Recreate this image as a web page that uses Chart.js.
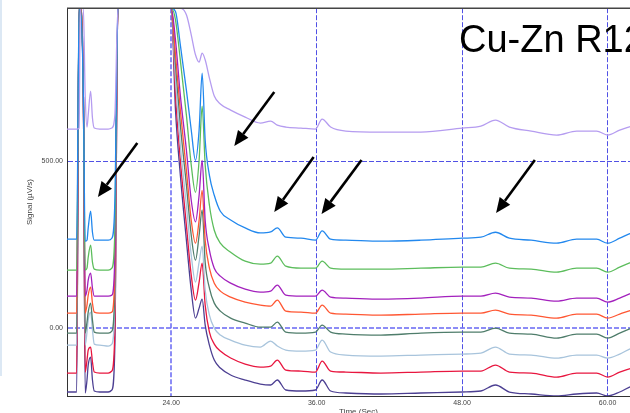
<!DOCTYPE html>
<html>
<head>
<meta charset="utf-8">
<script src="https://cdn.jsdelivr.net/npm/chart.js@4.4.1/dist/chart.umd.min.js"></script>
<style>
  html, body { margin: 0; padding: 0; background: #fff; overflow: hidden; width: 630px; height: 413px; }
  #wrap { position: absolute; left: 0; top: 0; width: 650px; height: 430px; }
  #strip { position: absolute; left: 0; top: 0; width: 2px; height: 376px; background: #dce8f4; z-index: 2; }
</style>
</head>
<body>
<div id="strip"></div>
<div id="wrap"><canvas id="chromChart" width="650" height="430"></canvas></div>
<script>
// retention time (sec)
const times = [15.4, 16.2, 16.4, 16.5, 16.75, 16.9, 17.05, 17.15, 17.35, 17.5,
  17.65, 18.1, 18.8, 19.1, 19.35, 19.6, 23.75, 24.0, 24.35, 24.75,
  25.25, 25.65, 26.0, 26.3, 26.55, 26.8, 27.15, 27.55, 28.05, 28.9,
  30.1, 31.35, 32.2, 32.75, 33.45, 34.7, 35.9, 36.45, 37.15, 38.4,
  41.3, 44.6, 48.0, 49.55, 50.75, 51.9, 53.7, 55.8, 57.45, 59.1,
  60.0, 61.0, 62.0, 63.5];

// signal (uV/s), one trace per run; 960 = detector off scale
const lavender = [597, 597, 600, 960, 960, 700, 603, 639, 711, 630,
  600, 597, 597, 600, 639, 960, 960, 960, 960, 960,
  940, 880, 820, 798, 825, 805, 750, 696, 672, 654,
  633, 615, 621, 609, 603, 600, 597, 627, 603, 591,
  588, 588, 600, 606, 624, 603, 591, 579, 591, 591,
  579, 594, 606, 618];

const blue = [266, 266, 960, 960, 700, 260, 263, 300, 350, 287,
  263, 263, 263, 269, 383, 960, 960, 960, 950, 850,
  714, 594, 503, 594, 765, 564, 458, 398, 350, 324,
  300, 285, 288, 300, 272, 269, 263, 291, 266, 263,
  260, 263, 269, 272, 287, 269, 263, 254, 266, 266,
  254, 269, 285, 297];

const green = [173, 173, 960, 960, 700, 173, 179, 212, 248, 197,
  176, 173, 173, 179, 293, 960, 960, 960, 925, 804,
  639, 489, 407, 503, 666, 489, 368, 293, 254, 227,
  200, 191, 194, 215, 185, 179, 179, 200, 179, 176,
  176, 179, 182, 182, 194, 179, 176, 167, 179, 179,
  167, 182, 197, 209];

const purple = [95, 95, 960, 960, 700, 95, 113, 143, 164, 119,
  95, 95, 95, 98, 218, 960, 960, 960, 865, 699,
  534, 383, 318, 398, 503, 323, 233, 179, 155, 134,
  116, 107, 110, 128, 98, 95, 95, 113, 92, 89,
  86, 89, 95, 95, 104, 92, 89, 80, 89, 89,
  77, 89, 104, 116];

const orange = [44, 44, 960, 960, 700, 44, 68, 98, 122, 74,
  47, 44, 44, 47, 173, 960, 960, 960, 820, 654,
  473, 323, 254, 323, 413, 263, 179, 134, 110, 92,
  77, 68, 65, 83, 50, 47, 44, 68, 44, 41,
  38, 41, 44, 44, 53, 41, 38, 29, 41, 41,
  29, 41, 53, 65];

const slateGreen = [-16, -16, 960, 960, 700, -16, 17, 47, 74, 23,
  -13, -16, -16, -10, 128, 960, 960, 960, 789, 609,
  429, 278, 203, 278, 354, 197, 119, 74, 50, 29,
  14, 2, 2, 17, -13, -16, -13, 8, -13, -19,
  -22, -16, -13, -13, -1, -16, -19, -31, -19, -19,
  -31, -16, -1, 11];

const lightBlue = [-52, -52, 960, 960, 700, -52, -13, 23, 47, -7,
  -49, -52, -55, -49, 83, 960, 960, 960, 744, 549,
  368, 218, 137, 197, 245, 113, 38, -1, -22, -37,
  -52, -58, -40, -55, -67, -70, -67, -37, -73, -82,
  -85, -82, -79, -76, -58, -79, -82, -91, -82, -82,
  -91, -79, -61, -49];

const red = [-136, -136, 960, 960, 700, -133, -97, -67, -58, -103,
  -133, -136, -136, -130, -7, 960, 960, 960, 699, 504,
  308, 158, 83, 137, 194, 68, -13, -49, -70, -91,
  -109, -118, -115, -97, -127, -130, -133, -100, -130, -133,
  -136, -133, -130, -130, -112, -133, -136, -148, -136, -136,
  -148, -133, -121, -109];

const navy = [-193, -193, 960, 960, 700, -196, -157, -112, -88, -157,
  -190, -193, -193, -187, -52, 960, 960, 960, 654, 459,
  263, 113, 29, 59, 86, 8, -52, -97, -121, -142,
  -157, -169, -172, -157, -187, -190, -187, -157, -190, -196,
  -199, -196, -193, -190, -172, -193, -199, -205, -199, -196,
  -205, -193, -175, -163];

const xTicks = [24, 36, 48, 60];
const yTicks = [0, 500];

// arrow annotations: [fromTime, fromSignal, toTime, toSignal]
const arrows = [
  [21.2, 555, 17.95, 393],
  [32.5, 708, 29.2, 546],
  [35.75, 513, 32.5, 348],
  [39.7, 504, 36.4, 342],
  [54.0, 504, 50.8, 345]
];

const traces = [
  { data: lavender, color: "#b59cf0" },
  { data: blue, color: "#2288ee" },
  { data: green, color: "#5cbd5c" },
  { data: purple, color: "#a321bd" },
  { data: orange, color: "#ff5733" },
  { data: slateGreen, color: "#4f7d6b" },
  { data: lightBlue, color: "#a8c4dc" },
  { data: red, color: "#e8163f" },
  { data: navy, color: "#4c3f92" }
];

const overlay = {
  id: "overlay",
  afterDraw(chart) {
    const c = chart.ctx;
    const xs = chart.scales.x;
    const ys = chart.scales.y;
    const area = chart.chartArea;

    // frame top edge
    c.save();
    c.strokeStyle = "#444";
    c.lineWidth = 1.5;
    c.beginPath();
    c.moveTo(area.left, area.top);
    c.lineTo(area.right, area.top);
    c.stroke();
    c.restore();

    // arrows
    c.save();
    c.strokeStyle = "#000";
    c.fillStyle = "#000";
    c.lineWidth = 2.6;
    arrows.forEach(a => {
      const x1 = xs.getPixelForValue(a[0]);
      const y1 = ys.getPixelForValue(a[1]);
      const x2 = xs.getPixelForValue(a[2]);
      const y2 = ys.getPixelForValue(a[3]);
      const ang = Math.atan2(y2 - y1, x2 - x1);
      const head = 15;
      const half = 6.5;
      const bx = x2 - head * Math.cos(ang);
      const by = y2 - head * Math.sin(ang);
      c.beginPath();
      c.moveTo(x1, y1);
      c.lineTo(bx, by);
      c.stroke();
      c.beginPath();
      c.moveTo(x2, y2);
      c.lineTo(bx + half * Math.sin(ang), by - half * Math.cos(ang));
      c.lineTo(bx - half * Math.sin(ang), by + half * Math.cos(ang));
      c.closePath();
      c.fill();
    });
    c.restore();

    // sample title
    c.save();
    c.fillStyle = "#000";
    c.font = "38px 'Liberation Sans', Arial, sans-serif";
    c.textBaseline = "alphabetic";
    c.fillText("Cu-Zn R12", 459, 52);
    c.restore();
  }
};

const ctx = document.getElementById("chromChart");

new Chart(ctx, {

  type: "line",

  data: {
    datasets: traces.map(tr => ({
      data: times.map((t, i) => ({ x: t, y: tr.data[i] })),
      borderColor: tr.color,
      borderWidth: 1.3,
      pointRadius: 0,
      cubicInterpolationMode: "monotone",
      fill: false
    }))
  },

  options: {
    responsive: false,
    animation: false,
    devicePixelRatio: 1,
    layout: { padding: { top: 8, left: 0, right: 0, bottom: 0 } },
    plugins: {
      legend: { display: false },
      tooltip: { enabled: false }
    },
    scales: {
      x: {
        type: "linear",
        min: 15.4,
        max: 63.5,
        afterBuildTicks: s => { s.ticks = xTicks.map(v => ({ value: v })); },
        afterFit: s => { s.height = 34; },
        ticks: {
          color: "#444",
          padding: 3,
          maxRotation: 0,
          font: { family: "'Liberation Sans', Arial", size: 7 },
          callback: v => Number(v).toFixed(2)
        },
        grid: {
          drawTicks: false,
          color: c => c.tick && c.tick.value === 24 ? "rgba(120,120,245,0.85)" : "rgba(50,50,225,0.85)",
          lineWidth: c => c.tick && c.tick.value === 24 ? 2 : 1
        },
        border: { color: "#333", width: 1, dash: [5, 2] },
        title: {
          display: true,
          text: "Time (Sec)",
          color: "#444",
          font: { family: "'Liberation Sans', Arial", size: 8 },
          padding: { top: 0, bottom: 13 }
        }
      },
      y: {
        min: -205,
        max: 960,
        afterBuildTicks: s => { s.ticks = yTicks.map(v => ({ value: v })); },
        afterFit: s => { s.width = 67; },
        ticks: {
          color: "#444",
          padding: 4,
          font: { family: "'Liberation Sans', Arial", size: 7 },
          callback: v => Number(v).toFixed(2)
        },
        grid: {
          drawTicks: false,
          color: c => c.tick && c.tick.value === 0 ? "rgba(120,120,245,0.85)" : "rgba(50,50,225,0.85)",
          lineWidth: c => c.tick && c.tick.value === 0 ? 2 : 1
        },
        border: { color: "#333", width: 1, dash: [5, 2] },
        title: {
          display: true,
          text: "Signal (µV/s)",
          color: "#444",
          font: { family: "'Liberation Sans', Arial", size: 8 },
          padding: { top: 25, bottom: 0 }
        }
      }
    }
  },

  plugins: [overlay]

});
</script>
</body>
</html>
